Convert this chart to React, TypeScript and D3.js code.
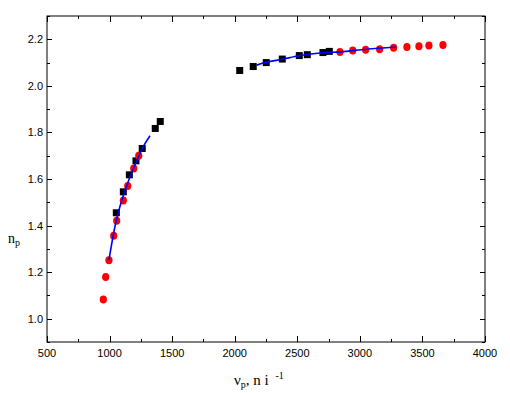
import React, { useEffect, useRef } from "react";
import * as d3 from "d3";

// black squares (measured, two branches)
const blackX = [1054, 1110, 1158, 1211, 1261, 1365, 1405, 2040, 2148, 2252, 2380, 2516, 2580, 2705, 2756];
const blackY = [1.455, 1.545, 1.618, 1.678, 1.731, 1.817, 1.847, 2.066, 2.083, 2.1, 2.115, 2.13, 2.134, 2.143, 2.148];

// red circles
const redX = [950, 969, 995, 1033, 1057, 1110, 1145, 1193, 1233, 2841, 2943, 3046, 3158, 3270, 3376, 3472, 3552, 3664];
const redY = [1.082, 1.179, 1.251, 1.356, 1.421, 1.508, 1.57, 1.645, 1.7, 2.145, 2.152, 2.155, 2.157, 2.164, 2.167, 2.17, 2.173, 2.175];

// blue fit lines
const fitLeftX = [995, 1043, 1083, 1150, 1203, 1270, 1323];
const fitLeftY = [1.252, 1.396, 1.482, 1.59, 1.661, 1.74, 1.786];
const fitRightX = [2176, 2250, 2378, 2514, 2705, 2841, 3049, 3286];
const fitRightY = [2.089, 2.101, 2.114, 2.129, 2.142, 2.146, 2.157, 2.167];

const xTicks = [500, 1000, 1500, 2000, 2500, 3000, 3500, 4000];
const yTicks = [1.0, 1.2, 1.4, 1.6, 1.8, 2.0, 2.2];

export default function App() {
  const ref = useRef<SVGSVGElement>(null);

  useEffect(() => {
    const svg = d3.select(ref.current);
    svg.selectAll("*").remove();

    var left = 47, right = 485, top = 16, bottom = 342;
    var x = d3.scaleLinear().domain([500, 4000]).range([left, right]);
    var y = d3.scaleLinear().domain([0.9, 2.3]).range([bottom, top]);

    var g = svg.append("g");

    // frame
    g.append("rect")
      .attr("x", left).attr("y", top)
      .attr("width", right - left).attr("height", bottom - top)
      .attr("fill", "none").attr("stroke", "black").attr("stroke-width", 1);

    // ticks, inward, mirrored on all sides
    var xAll = d3.range(500, 4001, 250);
    xAll.forEach(function (v) {
      var major = v % 500 === 0;
      var len = major ? 6 : 3;
      var px = Math.round(x(v)) + 0.5;
      g.append("line").attr("x1", px).attr("x2", px).attr("y1", bottom).attr("y2", bottom - len).attr("stroke", "black");
      g.append("line").attr("x1", px).attr("x2", px).attr("y1", top).attr("y2", top + len).attr("stroke", "black");
    });
    var yAll = d3.range(9, 24).map(function (d) { return d / 10; });
    yAll.forEach(function (v, i) {
      var major = i % 2 === 1;
      var len = major ? 5 : 3;
      var py = Math.round(y(v)) + 0.5;
      g.append("line").attr("x1", left).attr("x2", left + len).attr("y1", py).attr("y2", py).attr("stroke", "black");
      g.append("line").attr("x1", right).attr("x2", right - len).attr("y1", py).attr("y2", py).attr("stroke", "black");
    });

    // tick labels
    g.selectAll(".xl").data(xTicks).enter().append("text")
      .attr("x", function (d) { return x(d); })
      .attr("y", 357)
      .attr("text-anchor", "middle")
      .attr("font-family", "Liberation Sans, Arial, sans-serif")
      .attr("font-size", 11)
      .text(function (d) { return d; });
    g.selectAll(".yl").data(yTicks).enter().append("text")
      .attr("x", 43)
      .attr("y", function (d) { return y(d) + 4; })
      .attr("text-anchor", "end")
      .attr("font-family", "Liberation Sans, Arial, sans-serif")
      .attr("font-size", 11)
      .text(function (d) { return d.toFixed(1); });

    // axis titles
    var xt = g.append("text")
      .attr("x", 234).attr("y", 385)
      .attr("font-family", "Liberation Serif, Times New Roman, serif")
      .attr("font-size", 15);
    xt.append("tspan").text("ν");
    xt.append("tspan").attr("font-size", 10).attr("dy", 3).text("p");
    xt.append("tspan").attr("dy", -3).text(", n i ");
    xt.append("tspan").attr("font-size", 10).attr("dy", -6).attr("dx", 3).text("-1");

    var yt = g.append("text")
      .attr("x", 8).attr("y", 243)
      .attr("font-family", "Liberation Serif, Times New Roman, serif")
      .attr("font-size", 14);
    yt.append("tspan").text("n");
    yt.append("tspan").attr("font-size", 10).attr("dy", 3).text("p");

    // black squares
    g.selectAll(".sq").data(blackX).enter().append("rect")
      .attr("x", function (d) { return x(d) - 3.5; })
      .attr("y", function (d, i) { return y(blackY[i]) - 3.5; })
      .attr("width", 7).attr("height", 7)
      .attr("fill", "black");

    // red circles
    g.selectAll(".ci").data(redX).enter().append("ellipse")
      .attr("cx", function (d) { return x(d); })
      .attr("cy", function (d, i) { return y(redY[i]); })
      .attr("rx", 3.6).attr("ry", 4)
      .attr("fill", "#ff0000");

    // fit lines
    var leftPts = fitLeftX.map(function (d, i) { return [x(d), y(fitLeftY[i])] as [number, number]; });
    var rightPts = fitRightX.map(function (d, i) { return [x(d), y(fitRightY[i])] as [number, number]; });
    var line = d3.line().curve(d3.curveMonotoneX);
    g.append("path").attr("d", line(leftPts)).attr("fill", "none").attr("stroke", "#0000ff").attr("stroke-width", 1.6);
    g.append("path").attr("d", line(rightPts)).attr("fill", "none").attr("stroke", "#0000ff").attr("stroke-width", 1.6);
  }, []);

  return (
    <svg ref={ref} width={510} height={393} style={{ position: "absolute", left: 0, top: 0, background: "white" }}></svg>
  );
}
